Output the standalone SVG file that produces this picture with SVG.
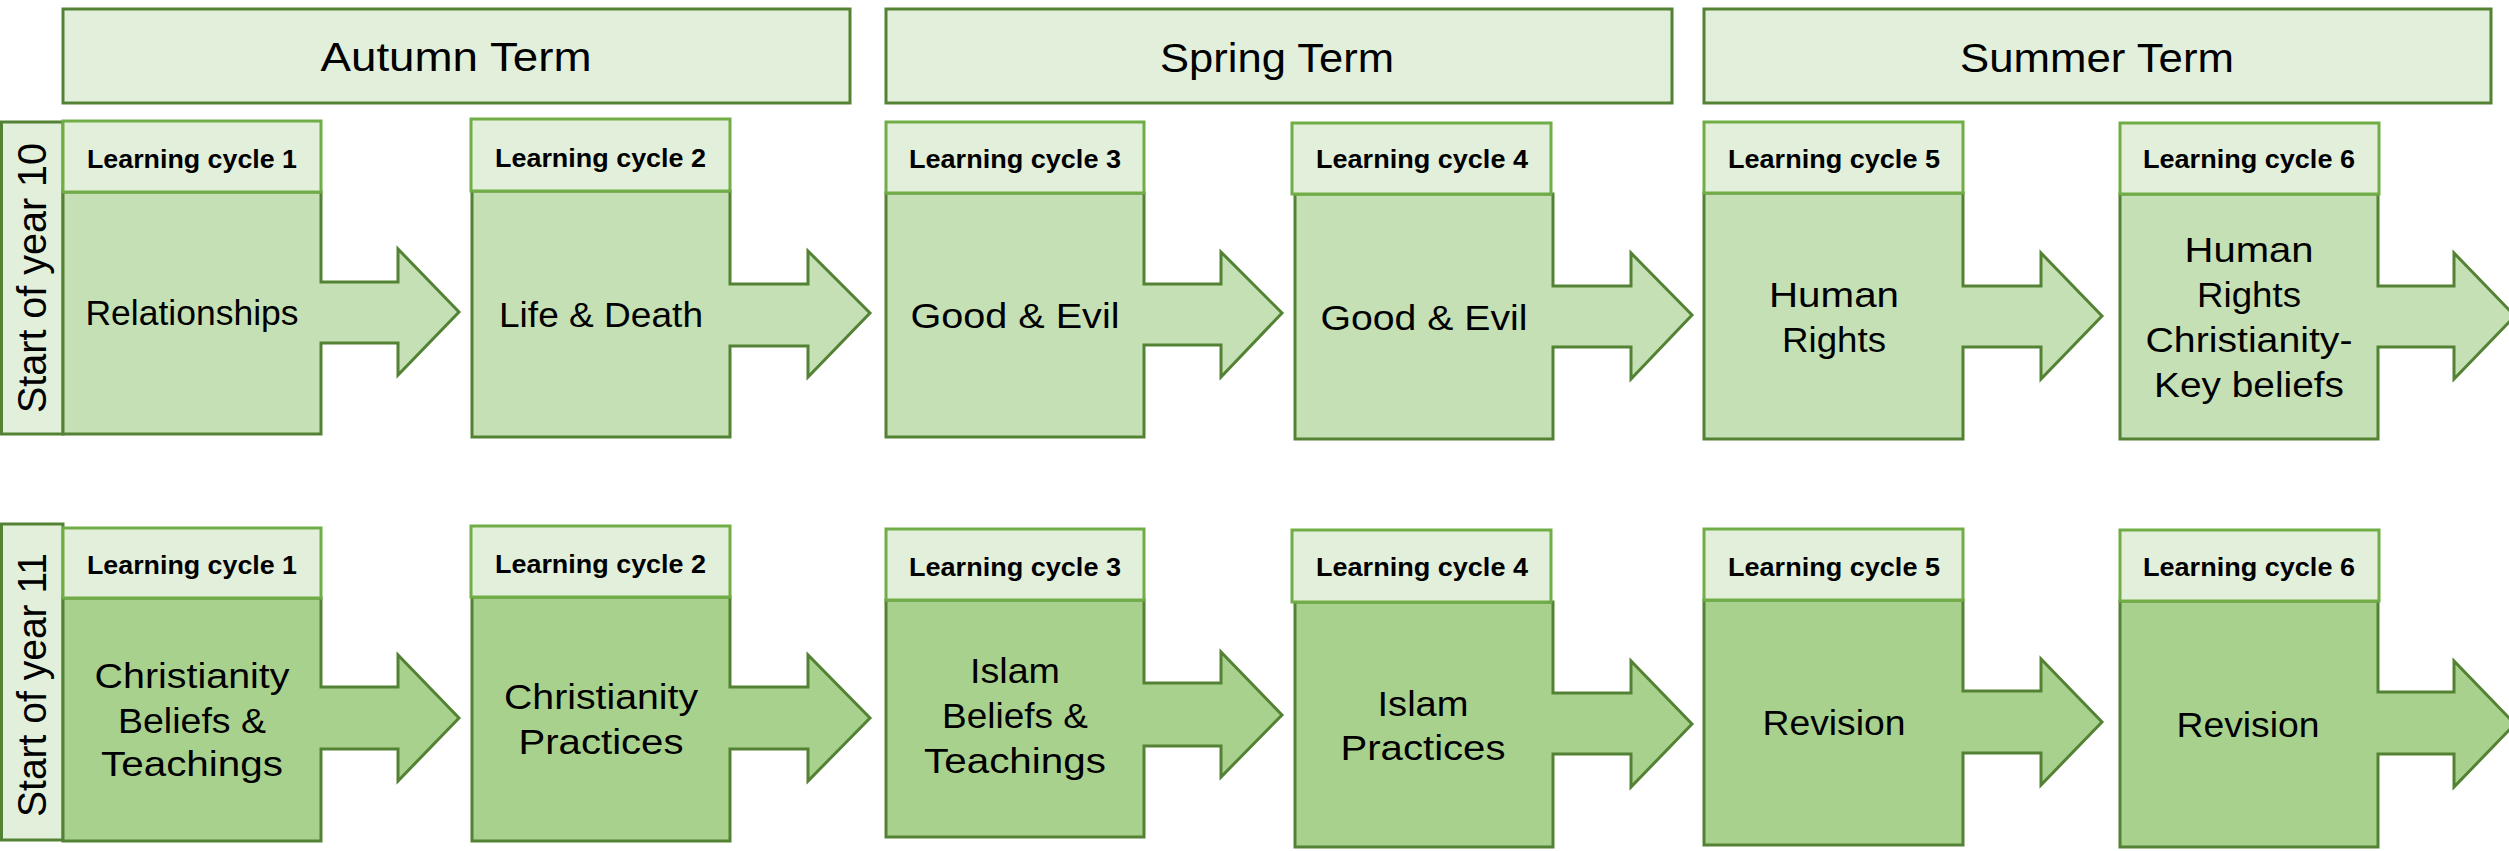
<svg xmlns="http://www.w3.org/2000/svg" width="2509" height="851" viewBox="0 0 2509 851">
<style>
.term{fill:#E2EFDA;stroke:#548235;stroke-width:3}
.side{fill:#E2EFDA;stroke:#548235;stroke-width:3}
.hdr{fill:#E2EFDA;stroke:#70AD47;stroke-width:3}
.b10{fill:#C5E0B4;stroke:#548235;stroke-width:3;stroke-linejoin:miter}
.b11{fill:#A9D18E;stroke:#548235;stroke-width:3;stroke-linejoin:miter}
text{font-family:"Liberation Sans",Arial,sans-serif;fill:#000;text-anchor:middle}
.tt{font-size:40px}
.ht{font-size:25px;font-weight:bold}
.bt{font-size:35px}
.st{font-size:40px}
</style>
<rect width="2509" height="851" fill="#FFFFFF"/>
<g id="terms">
<g id="autumn"><rect class="term" x="63" y="9" width="787" height="94"/><text class="tt" x="456" y="71" textLength="271" lengthAdjust="spacingAndGlyphs">Autumn Term</text></g>
<g id="spring"><rect class="term" x="886" y="9" width="786" height="94"/><text class="tt" x="1277" y="72" textLength="234" lengthAdjust="spacingAndGlyphs">Spring Term</text></g>
<g id="summer"><rect class="term" x="1704" y="9" width="787" height="94"/><text class="tt" x="2097" y="72" textLength="274" lengthAdjust="spacingAndGlyphs">Summer Term</text></g>
</g>
<g id="side10"><rect class="side" x="1.5" y="122" width="61.5" height="312"/><text class="st" transform="translate(46,278) rotate(-90)" textLength="270" lengthAdjust="spacingAndGlyphs">Start of year 10</text></g>
<g id="side11"><rect class="side" x="1.5" y="524" width="61.5" height="316"/><text class="st" transform="translate(46,685) rotate(-90)" textLength="264" lengthAdjust="spacingAndGlyphs">Start of year 11</text></g>
<g id="connectors"></g>
<g id="y10-lc1">
<path class="b10" d="M63 192 H321 V282 H398 V249 L459 312 L398 375 V343 H321 V434 H63 Z"/>
<rect class="hdr" x="63" y="121" width="258" height="71"/>
<text class="ht" x="192" y="168" textLength="210" lengthAdjust="spacingAndGlyphs">Learning cycle 1</text>
<text class="bt" x="192" y="325" textLength="213" lengthAdjust="spacingAndGlyphs">Relationships</text>
</g>
<g id="y10-lc2">
<path class="b10" d="M472 191 H730 V284 H808 V251 L870 313 L808 377 V346 H730 V437 H472 Z"/>
<rect class="hdr" x="471" y="119" width="259" height="72"/>
<text class="ht" x="600.5" y="167" textLength="211" lengthAdjust="spacingAndGlyphs">Learning cycle 2</text>
<text class="bt" x="601" y="327" textLength="204" lengthAdjust="spacingAndGlyphs">Life &amp; Death</text>
</g>
<g id="y10-lc3">
<path class="b10" d="M886 193 H1144 V284 H1221 V252 L1282 313 L1221 377 V345 H1144 V437 H886 Z"/>
<rect class="hdr" x="886" y="122" width="258" height="71"/>
<text class="ht" x="1015" y="168" textLength="212" lengthAdjust="spacingAndGlyphs">Learning cycle 3</text>
<text class="bt" x="1015" y="328" textLength="209" lengthAdjust="spacingAndGlyphs">Good &amp; Evil</text>
</g>
<g id="y10-lc4">
<path class="b10" d="M1295 194 H1553 V286 H1631 V253 L1692 315 L1631 379 V347 H1553 V439 H1295 Z"/>
<rect class="hdr" x="1292" y="123" width="259" height="71"/>
<text class="ht" x="1422" y="168" textLength="212" lengthAdjust="spacingAndGlyphs">Learning cycle 4</text>
<text class="bt" x="1424" y="330" textLength="207" lengthAdjust="spacingAndGlyphs">Good &amp; Evil</text>
</g>
<g id="y10-lc5">
<path class="b10" d="M1704 193 H1963 V286 H2041 V253 L2102 316 L2041 379 V347 H1963 V439 H1704 Z"/>
<rect class="hdr" x="1704" y="122" width="259" height="71"/>
<text class="ht" x="1834" y="168" textLength="212" lengthAdjust="spacingAndGlyphs">Learning cycle 5</text>
<text class="bt" x="1834" y="307" textLength="130" lengthAdjust="spacingAndGlyphs">Human</text>
<text class="bt" x="1834" y="352" textLength="104" lengthAdjust="spacingAndGlyphs">Rights</text>
</g>
<g id="y10-lc6">
<path class="b10" d="M2120 194 H2378 V286 H2454 V253 L2515 316 L2454 379 V347 H2378 V439 H2120 Z"/>
<rect class="hdr" x="2120" y="123" width="259" height="71"/>
<text class="ht" x="2249" y="168" textLength="212" lengthAdjust="spacingAndGlyphs">Learning cycle 6</text>
<text class="bt" x="2249" y="262" textLength="129" lengthAdjust="spacingAndGlyphs">Human</text>
<text class="bt" x="2249" y="307" textLength="104" lengthAdjust="spacingAndGlyphs">Rights</text>
<text class="bt" x="2249" y="352" textLength="207" lengthAdjust="spacingAndGlyphs">Christianity-</text>
<text class="bt" x="2249" y="397" textLength="190" lengthAdjust="spacingAndGlyphs">Key beliefs</text>
</g>
<g id="y11-lc1">
<path class="b11" d="M63 598 H321 V687 H398 V655 L459 718 L398 781 V749 H321 V841 H63 Z"/>
<rect class="hdr" x="63" y="528" width="258" height="70"/>
<text class="ht" x="192" y="574" textLength="210" lengthAdjust="spacingAndGlyphs">Learning cycle 1</text>
<text class="bt" x="192" y="688" textLength="195" lengthAdjust="spacingAndGlyphs">Christianity</text>
<text class="bt" x="192" y="733" textLength="148" lengthAdjust="spacingAndGlyphs">Beliefs &amp;</text>
<text class="bt" x="192" y="776" textLength="182" lengthAdjust="spacingAndGlyphs">Teachings</text>
</g>
<g id="y11-lc2">
<path class="b11" d="M472 597 H730 V687 H808 V655 L870 718 L808 781 V749 H730 V841 H472 Z"/>
<rect class="hdr" x="471" y="526" width="259" height="71"/>
<text class="ht" x="600.5" y="573" textLength="211" lengthAdjust="spacingAndGlyphs">Learning cycle 2</text>
<text class="bt" x="601" y="709" textLength="194" lengthAdjust="spacingAndGlyphs">Christianity</text>
<text class="bt" x="601" y="754" textLength="165" lengthAdjust="spacingAndGlyphs">Practices</text>
</g>
<g id="y11-lc3">
<path class="b11" d="M886 600 H1144 V683 H1221 V652 L1282 715 L1221 777 V746 H1144 V837 H886 Z"/>
<rect class="hdr" x="886" y="529" width="258" height="71"/>
<text class="ht" x="1015" y="576" textLength="212" lengthAdjust="spacingAndGlyphs">Learning cycle 3</text>
<text class="bt" x="1015" y="683" textLength="90" lengthAdjust="spacingAndGlyphs">Islam</text>
<text class="bt" x="1015" y="728" textLength="146" lengthAdjust="spacingAndGlyphs">Beliefs &amp;</text>
<text class="bt" x="1015" y="773" textLength="182" lengthAdjust="spacingAndGlyphs">Teachings</text>
</g>
<g id="y11-lc4">
<path class="b11" d="M1295 602 H1553 V693 H1631 V661 L1692 724 L1631 787 V754 H1553 V847 H1295 Z"/>
<rect class="hdr" x="1292" y="530" width="259" height="72"/>
<text class="ht" x="1422" y="576" textLength="212" lengthAdjust="spacingAndGlyphs">Learning cycle 4</text>
<text class="bt" x="1423" y="716" textLength="91" lengthAdjust="spacingAndGlyphs">Islam</text>
<text class="bt" x="1423" y="760" textLength="165" lengthAdjust="spacingAndGlyphs">Practices</text>
</g>
<g id="y11-lc5">
<path class="b11" d="M1704 600 H1963 V691 H2041 V659 L2102 722 L2041 785 V753 H1963 V845 H1704 Z"/>
<rect class="hdr" x="1704" y="529" width="259" height="71"/>
<text class="ht" x="1834" y="576" textLength="212" lengthAdjust="spacingAndGlyphs">Learning cycle 5</text>
<text class="bt" x="1834" y="735" textLength="143" lengthAdjust="spacingAndGlyphs">Revision</text>
</g>
<g id="y11-lc6">
<path class="b11" d="M2120 601 H2378 V692 H2454 V661 L2515 724 L2454 787 V754 H2378 V847 H2120 Z"/>
<rect class="hdr" x="2120" y="530" width="259" height="71"/>
<text class="ht" x="2249" y="576" textLength="212" lengthAdjust="spacingAndGlyphs">Learning cycle 6</text>
<text class="bt" x="2248" y="737" textLength="143" lengthAdjust="spacingAndGlyphs">Revision</text>
</g>
</svg>
